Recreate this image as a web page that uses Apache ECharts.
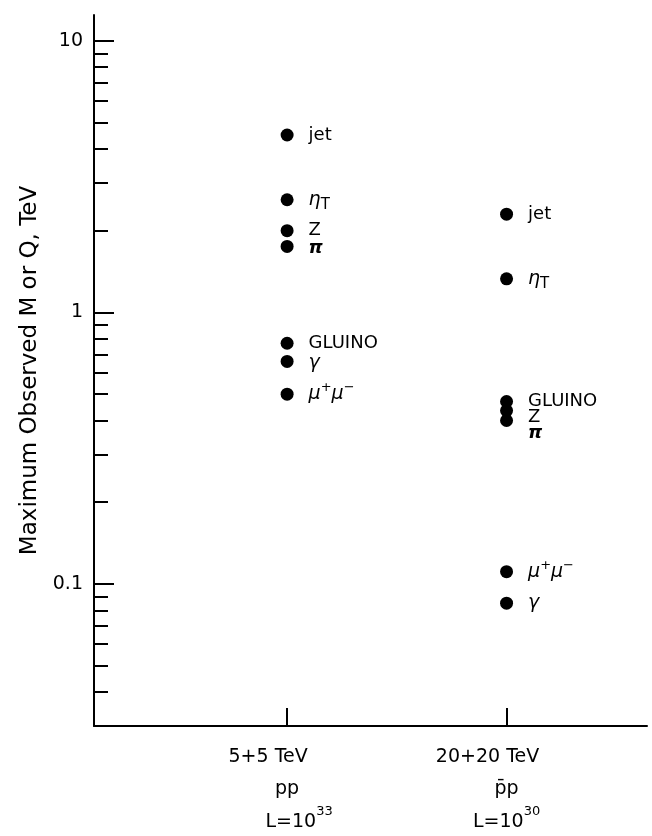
<!DOCTYPE html>
<html><head><meta charset="utf-8">
<script src="https://cdn.jsdelivr.net/npm/echarts@6/dist/echarts.min.js"></script>
<style>html,body{margin:0;padding:0;background:#fff}#c{width:652px;height:836px}</style>
</head><body><div id="c"></div>
<script>
// ---- data ----
const colliders = ['5+5 TeV', '20+20 TeV'];
const beams = ['pp', 'p\u0304p'];
const lumiExponents = ['33', '30'];
const colliderPositions = [1, 2];

const particles55 = ['jet', 'etaT', 'Z', 'pi', 'GLUINO', 'gamma', 'mumu'];
const values55 = [4.5, 2.6, 2.0, 1.75, 0.77, 0.66, 0.50];

const particles2020 = ['jet', 'etaT', 'GLUINO', 'Z', 'pi', 'mumu', 'gamma'];
const values2020 = [2.3, 1.33, 0.47, 0.435, 0.40, 0.111, 0.085];

const yMajorTicks = [0.1, 1, 10];
const yMajorLabels = ['0.1', '1', '10'];
const yMinorTicks = [0.04, 0.05, 0.06, 0.07, 0.08, 0.09,
                     0.2, 0.3, 0.4, 0.5, 0.6, 0.7, 0.8, 0.9,
                     2, 3, 4, 5, 6, 7, 8, 9];

// ---- text / style configuration ----
const FONT = 'DejaVu Sans';
const labelText = {
  jet: 'jet',
  etaT: '{it|η}{sub|T}',
  Z: 'Z',
  pi: '{pi|π}',
  GLUINO: 'GLUINO',
  gamma: '{it|γ}',
  mumu: '{it|μ}{sup|+}{it|μ}{sup|−}'
};
const labelNudge = { '2:Z': [0, 7], '2:pi': [0, 13], '1:pi': [0, 2], '1:gamma': [0, 2] };

function buildPoints(x, names, vals) {
  return names.map((n, i) => {
    const d = { name: n, value: [x, vals[i]] };
    const nudge = labelNudge[x + ':' + n];
    if (nudge) d.label = { offset: nudge };
    return d;
  });
}

const pointLabel = {
  show: true, position: 'right', distance: 15,
  color: '#000', fontFamily: FONT, fontSize: 18, lineHeight: 26,
  formatter: p => labelText[p.name],
  rich: {
    it: { fontFamily: FONT, fontSize: 19, fontStyle: 'italic', color: '#000', lineHeight: 26 },
    pi: { fontFamily: FONT, fontSize: 18, fontStyle: 'italic', fontWeight: 'bold', color: '#000', lineHeight: 26 },
    sub: { fontFamily: FONT, fontSize: 15, color: '#000', verticalAlign: 'bottom', lineHeight: 17 },
    sup: { fontFamily: FONT, fontSize: 13, color: '#000', verticalAlign: 'top', lineHeight: 14 }
  }
};

const chart = echarts.init(document.getElementById('c'), null, { renderer: 'canvas' });
const black = '#000';

chart.setOption({
  backgroundColor: '#fff',
  animation: false,
  grid: { left: 94, right: 5, top: 15, bottom: 110 },
  xAxis: {
    type: 'value', min: 0.12, max: 2.64,
    axisLine: { show: true, lineStyle: { color: black, width: 2 } },
    axisTick: { show: true, inside: true, length: 18, customValues: colliderPositions,
                lineStyle: { color: black, width: 2 } },
    splitLine: { show: false },
    axisLabel: {
      customValues: colliderPositions, margin: 15, color: '#000',
      fontFamily: FONT, fontSize: 19,
      formatter: v => {
        const i = colliderPositions.indexOf(Math.round(v));
        return '{top|' + colliders[i] + '}\n{mid|' + beams[i] + '}\n{l' + i + '|L=10}{s|' + lumiExponents[i] + '}';
      },
      rich: {
        top: { fontFamily: FONT, fontSize: 19, color: '#000', lineHeight: 32, padding: [0, 38, 0, 0] },
        mid: { fontFamily: FONT, fontSize: 19, color: '#000', lineHeight: 32 },
        l0: { fontFamily: FONT, fontSize: 19, color: '#000', lineHeight: 34, padding: [0, 0, 0, 24] },
        l1: { fontFamily: FONT, fontSize: 19, color: '#000', lineHeight: 34 },
        s: { fontFamily: FONT, fontSize: 13, color: '#000', verticalAlign: 'top', lineHeight: 14 }
      }
    }
  },
  yAxis: [{
    type: 'log', min: 0.03, max: 12.45, logBase: 10,
    name: 'Maximum Observed M or Q, TeV', nameLocation: 'middle', nameGap: 44,
    nameTextStyle: { fontFamily: FONT, fontSize: 23, color: '#000' },
    axisLine: { show: true, lineStyle: { color: black, width: 2 } },
    axisTick: { show: true, inside: true, length: 20, customValues: yMajorTicks,
                lineStyle: { color: black, width: 2 } },
    splitLine: { show: false },
    axisLabel: {
      customValues: yMajorTicks, margin: 11, color: '#000',
      fontFamily: FONT, fontSize: 19,
      formatter: v => {
        const k = yMajorTicks.findIndex(t => Math.abs(t - v) / t < 1e-6);
        return k >= 0 ? yMajorLabels[k] : '';
      }
    }
  }, {
    type: 'log', min: 0.03, max: 12.45, logBase: 10, position: 'left',
    axisLine: { show: false },
    axisTick: { show: true, inside: true, length: 14, customValues: yMinorTicks,
                lineStyle: { color: black, width: 2 } },
    axisLabel: { show: false },
    splitLine: { show: false }
  }],
  series: [{
    type: 'scatter', yAxisIndex: 0, symbol: 'circle', symbolSize: 13,
    itemStyle: { color: '#000', opacity: 1 }, label: pointLabel,
    data: buildPoints(colliderPositions[0], particles55, values55)
  }, {
    type: 'scatter', yAxisIndex: 0, symbol: 'circle', symbolSize: 13,
    itemStyle: { color: '#000', opacity: 1 }, label: pointLabel,
    data: buildPoints(colliderPositions[1], particles2020, values2020)
  }]
});
</script></body></html>
